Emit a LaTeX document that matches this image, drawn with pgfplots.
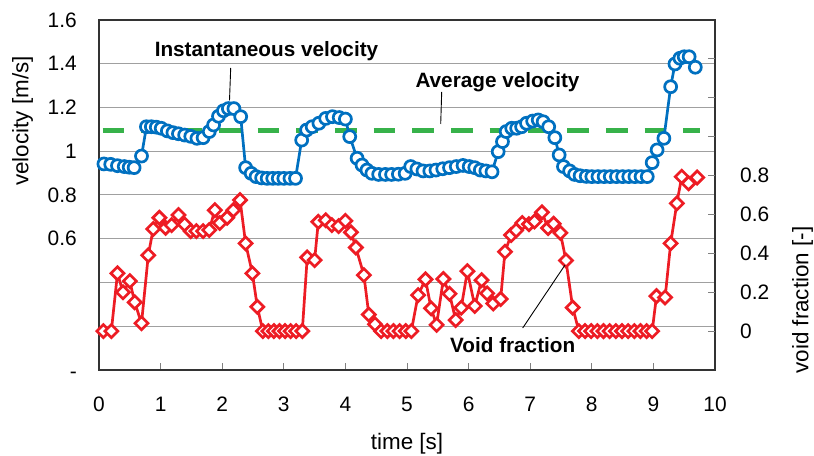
\documentclass[border=0pt]{standalone}
\usepackage{fontspec}
\setmainfont{Liberation Sans}
\usepackage{pgfplots}
\usepackage{pgfplotstable}
\pgfplotsset{compat=1.18}
\definecolor{vblue}{RGB}{0,112,192}
\definecolor{vred}{RGB}{237,28,36}
\definecolor{vgreen}{RGB}{55,178,74}
\definecolor{gridgray}{RGB}{160,160,160}

\pgfplotstableread{
t v
0.08 0.942
0.19 0.940
0.30 0.934
0.41 0.930
0.49 0.927
0.57 0.925
0.69 0.978
0.77 1.112
0.85 1.112
0.93 1.110
1.01 1.105
1.11 1.093
1.20 1.085
1.29 1.080
1.39 1.074
1.49 1.068
1.59 1.059
1.69 1.062
1.79 1.090
1.86 1.120
1.94 1.160
2.02 1.185
2.10 1.195
2.19 1.195
2.30 1.158
2.38 0.925
2.47 0.899
2.55 0.884
2.64 0.878
2.73 0.876
2.82 0.876
2.91 0.876
3.00 0.876
3.10 0.876
3.19 0.876
3.29 1.051
3.37 1.097
3.46 1.112
3.57 1.128
3.68 1.150
3.79 1.158
3.90 1.154
4.00 1.147
4.07 1.067
4.19 0.968
4.27 0.937
4.35 0.914
4.43 0.899
4.54 0.894
4.65 0.894
4.75 0.894
4.86 0.895
4.97 0.899
5.06 0.930
5.16 0.919
5.26 0.910
5.37 0.910
5.47 0.914
5.58 0.920
5.69 0.925
5.80 0.930
5.91 0.935
6.01 0.930
6.10 0.925
6.19 0.914
6.28 0.910
6.38 0.906
6.48 0.998
6.55 1.044
6.61 1.090
6.70 1.105
6.78 1.105
6.86 1.112
6.94 1.128
7.04 1.138
7.13 1.143
7.21 1.135
7.30 1.112
7.40 1.062
7.47 0.983
7.54 0.930
7.64 0.910
7.72 0.894
7.81 0.888
7.91 0.885
8.00 0.884
8.10 0.884
8.20 0.884
8.30 0.884
8.40 0.884
8.50 0.884
8.60 0.884
8.70 0.884
8.80 0.884
8.90 0.884
8.98 0.948
9.06 1.006
9.17 1.059
9.28 1.295
9.35 1.399
9.43 1.425
9.50 1.432
9.58 1.432
9.68 1.384
}\velocity

\pgfplotstableread{
t f
0.07 0.0
0.20 0.0
0.30 0.297
0.39 0.200
0.50 0.257
0.58 0.148
0.69 0.040
0.80 0.390
0.88 0.525
0.98 0.583
1.08 0.531
1.18 0.545
1.29 0.597
1.39 0.549
1.49 0.514
1.58 0.514
1.69 0.514
1.79 0.520
1.88 0.622
1.96 0.556
2.08 0.583
2.18 0.622
2.29 0.674
2.38 0.451
2.49 0.297
2.57 0.125
2.66 0.0
2.75 0.0
2.84 0.0
2.93 0.0
3.02 0.0
3.11 0.0
3.20 0.0
3.30 0.0
3.38 0.379
3.50 0.365
3.56 0.562
3.68 0.570
3.78 0.545
3.89 0.540
4.00 0.567
4.09 0.508
4.17 0.430
4.30 0.288
4.38 0.085
4.48 0.035
4.58 0.0
4.68 0.0
4.78 0.0
4.88 0.0
4.98 0.0
5.07 0.0
5.18 0.185
5.30 0.266
5.39 0.117
5.48 0.032
5.59 0.268
5.69 0.192
5.79 0.057
5.88 0.120
5.98 0.308
6.10 0.129
6.21 0.262
6.30 0.194
6.40 0.142
6.52 0.165
6.59 0.408
6.69 0.494
6.77 0.518
6.87 0.556
6.98 0.550
7.07 0.564
7.19 0.611
7.29 0.530
7.38 0.552
7.49 0.505
7.58 0.363
7.69 0.121
7.79 0.0
7.89 0.0
7.99 0.0
8.09 0.0
8.19 0.0
8.29 0.0
8.39 0.0
8.49 0.0
8.59 0.0
8.69 0.0
8.79 0.0
8.89 0.0
8.98 0.0
9.05 0.180
9.19 0.173
9.28 0.451
9.38 0.657
9.46 0.794
9.57 0.760
9.71 0.790
}\voidfrac

\begin{document}
\begin{tikzpicture}[x=1bp,y=1bp]
\useasboundingbox (0,0) rectangle (814,456);
\begin{axis}[
  at={(99bp,86bp)}, anchor=south west,
  scale only axis, width=616bp, height=350bp,
  xmin=0, xmax=10, ymin=0, ymax=1.6,
  xtick={0,1,2,3,4,5,6,7,8,9,10},
  xticklabels={0,1,2,3,4,5,6,7,8,9,10},
  ytick={0,0.2,0.4,0.6,0.8,1.0,1.2,1.4,1.6},
  yticklabels={\smash{\raisebox{-9bp}{-}}\hspace{4bp},,,0.6,0.8,1,1.2,1.4,1.6},
  xtick pos=left, ytick pos=left,
  tick align=inside, major tick length=7bp,
  xtick style={gray, line width=1bp},
  ytick style={draw=none},
  ymajorgrids, grid style={gridgray, line width=1bp},
  axis line style={line width=2.5bp, black!80},
  xticklabel style={font=\fontsize{21}{25}\selectfont, anchor=north, inner sep=0pt, yshift=-27bp},
  yticklabel style={font=\fontsize{21}{25}\selectfont, anchor=east, inner sep=0pt, xshift=-22bp},
]
\addplot[vgreen, line width=5bp, dash pattern=on 21.7bp off 17bp, forget plot] coordinates {(0.06,1.095) (9.76,1.095)};
\addplot[vblue, line width=2.7bp, mark=*, mark size=6bp, mark options={fill=white, draw=vblue, solid}] table[x=t, y=v] {\velocity};
\end{axis}
\begin{axis}[
  at={(99bp,86bp)}, anchor=south west,
  scale only axis, width=616bp, height=350bp,
  xmin=0, xmax=10, ymin=-0.2, ymax=1.6,
  axis x line=none, axis y line*=right,
  y axis line style={draw=none},
  ytick={0,0.2,0.4,0.6,0.8,1.0,1.2,1.4},
  yticklabels={0,0.2,0.4,0.6,0.8,,,},
  tick align=inside, major tick length=7bp,
  ytick style={gray, line width=1bp},
  yticklabel style={font=\fontsize{21}{25}\selectfont, anchor=west, inner sep=0pt, xshift=25bp},
]
\addplot[vred, line width=2.7bp, mark=square*, mark size=4.6bp, mark options={fill=white, draw=vred, rotate=45, solid}] table[x=t, y=f] {\voidfrac};
\end{axis}
\node[rotate=90, font=\fontsize{22.5}{26}\selectfont] at (22.5,335) {velocity [m/s]};
\node[rotate=90, font=\fontsize{22.5}{26}\selectfont] at (802.5,156) {void fraction [-]};
\node[font=\fontsize{22.5}{26}\selectfont] at (407,12.5) {time [s]};
\node[font=\fontsize{20.8}{24}\selectfont\bfseries, anchor=base, inner sep=0pt] at (266.5,399.3) {Instantaneous velocity};
\node[font=\fontsize{20.8}{24}\selectfont\bfseries, anchor=base, inner sep=0pt] at (497.5,368.7) {Average velocity};
\node[font=\fontsize{20.8}{24}\selectfont\bfseries, anchor=base, inner sep=0pt] at (512.7,103.3) {Void fraction};
\draw[black, line width=0.9bp] (230.7,388) -- (229.5,355.5);
\draw[black, line width=0.9bp] (441.7,364) -- (440.7,332);
\draw[black, line width=0.9bp] (522.7,128) -- (565,191);
\end{tikzpicture}
\end{document}
